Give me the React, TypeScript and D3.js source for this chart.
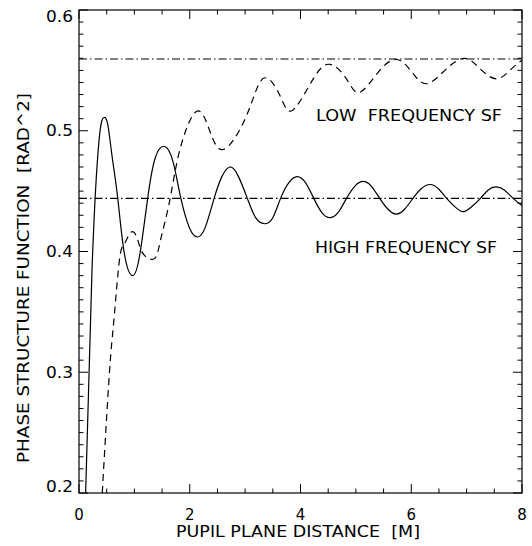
import React, { useEffect, useRef } from 'react';
import * as d3 from 'd3';

// high frequency structure function (solid)
const highDist = [0.12, 0.235, 0.36, 0.45, 0.52, 0.6, 0.7, 0.82, 0.97, 1.1, 1.24, 1.38, 1.55, 1.7, 1.84, 2.0, 2.14, 2.28, 2.44, 2.58, 2.73, 2.88, 3.04, 3.19, 3.35, 3.5, 3.64, 3.79, 3.94, 4.09, 4.24, 4.39, 4.54, 4.69, 4.83, 4.98, 5.13, 5.28, 5.43, 5.58, 5.73, 5.88, 6.03, 6.18, 6.34, 6.49, 6.64, 6.79, 6.94, 7.09, 7.25, 7.39, 7.53, 7.68, 7.84, 8.0];
const highSF = [0.2, 0.385, 0.491, 0.511, 0.505, 0.478, 0.444, 0.398, 0.38, 0.398, 0.444, 0.478, 0.487, 0.474, 0.444, 0.419, 0.412, 0.42, 0.444, 0.462, 0.47, 0.462, 0.444, 0.428, 0.423, 0.428, 0.444, 0.457, 0.462, 0.457, 0.444, 0.432, 0.428, 0.433, 0.444, 0.454, 0.458, 0.454, 0.444, 0.435, 0.431, 0.435, 0.444, 0.452, 0.4555, 0.452, 0.444, 0.437, 0.433, 0.437, 0.444, 0.451, 0.4535, 0.451, 0.444, 0.438];

// low frequency structure function (dashed)
const lowDist = [0.42, 0.55, 0.63, 0.73, 0.82, 0.94, 1.05, 1.16, 1.36, 1.47, 1.64, 1.82, 2.12, 2.36, 2.62, 3.03, 3.33, 3.63, 3.86, 4.23, 4.53, 4.83, 5.07, 5.43, 5.76, 6.03, 6.29, 6.63, 6.97, 7.25, 7.54, 7.78, 8.0];
const lowSF = [0.2, 0.3, 0.343, 0.393, 0.4065, 0.416, 0.411, 0.398, 0.394, 0.409, 0.4425, 0.484, 0.516, 0.5, 0.4847, 0.513, 0.5434, 0.529, 0.517, 0.543, 0.555, 0.543, 0.5318, 0.55, 0.5588, 0.5475, 0.539, 0.551, 0.56, 0.551, 0.543, 0.55, 0.5585];

// asymptotic levels (dash-dot)
const asymptotes = [0.5594, 0.444];

const xTickValues = [0, 2, 4, 6, 8];
const yTickValues = [0.2, 0.3, 0.4, 0.5, 0.6];

const App = () => {
  const svgRef = useRef(null);

  useEffect(() => {
    const width = 532;
    const height = 546;
    const left = 79;
    const right = 522;
    const top = 10;
    const bottom = 493;
    const font = '"DejaVu Sans", sans-serif';

    const svg = d3.select(svgRef.current);
    svg.selectAll('*').remove();
    svg.attr('width', width).attr('height', height);

    const x = d3.scaleLinear().domain([0, 8]).range([left, right]);
    const y = d3.scaleLinear().domain([0.2, 0.6]).range([bottom, top]);

    svg.append('clipPath').attr('id', 'plotclip')
      .append('rect')
      .attr('x', left).attr('y', top)
      .attr('width', right - left).attr('height', bottom - top);

    const plot = svg.append('g').attr('clip-path', 'url(#plotclip)');

    // dash-dot asymptotes
    plot.selectAll('.asym')
      .data(asymptotes)
      .enter()
      .append('line')
      .attr('x1', left).attr('x2', right)
      .attr('y1', (d) => y(d)).attr('y2', (d) => y(d))
      .attr('stroke', '#000')
      .attr('stroke-width', 1.1)
      .attr('stroke-dasharray', '8,3,1.5,3');

    const line = d3.line()
      .x((d) => x(d[0]))
      .y((d) => y(d[1]))
      .curve(d3.curveNatural);

    plot.append('path')
      .attr('d', line(highDist.map((d, i) => [d, highSF[i]])))
      .attr('fill', 'none')
      .attr('stroke', '#000')
      .attr('stroke-width', 1.2);

    plot.append('path')
      .attr('d', line(lowDist.map((d, i) => [d, lowSF[i]])))
      .attr('fill', 'none')
      .attr('stroke', '#000')
      .attr('stroke-width', 1.2)
      .attr('stroke-dasharray', '7,5');

    // frame
    svg.append('rect')
      .attr('x', left).attr('y', top)
      .attr('width', right - left).attr('height', bottom - top)
      .attr('fill', 'none')
      .attr('stroke', '#000')
      .attr('stroke-width', 1.2);

    // ticks (inward, all four sides)
    const ticks = svg.append('g').attr('stroke', '#000').attr('stroke-width', 1);
    d3.range(0, 8.001, 0.5).forEach((v) => {
      const major = Math.abs(v / 2 - Math.round(v / 2)) < 1e-6;
      const len = major ? 9 : 4.5;
      ticks.append('line').attr('x1', x(v)).attr('x2', x(v)).attr('y1', bottom).attr('y2', bottom - len);
      ticks.append('line').attr('x1', x(v)).attr('x2', x(v)).attr('y1', top).attr('y2', top + len);
    });
    d3.range(0.2, 0.6001, 0.01).forEach((v) => {
      const major = Math.abs(v * 10 - Math.round(v * 10)) < 1e-6;
      const len = major ? 9 : 4.5;
      ticks.append('line').attr('x1', left).attr('x2', left + len).attr('y1', y(v)).attr('y2', y(v));
      ticks.append('line').attr('x1', right).attr('x2', right - len).attr('y1', y(v)).attr('y2', y(v));
    });

    // tick labels
    svg.selectAll('.ylab')
      .data(yTickValues)
      .enter()
      .append('text')
      .attr('x', 46)
      .attr('y', (d) => Math.min(bottom - 6, Math.max(top + 6.5, y(d))))
      .attr('dy', '0.36em')
      .attr('textLength', 27)
      .attr('lengthAdjust', 'spacingAndGlyphs')
      .style('font-family', font)
      .style('font-size', '15px')
      .text((d) => d.toFixed(1));

    svg.selectAll('.xlab')
      .data(xTickValues)
      .enter()
      .append('text')
      .attr('x', (d) => x(d))
      .attr('y', 520)
      .attr('text-anchor', 'middle')
      .style('font-family', font)
      .style('font-size', '15px')
      .text((d) => d);

    // axis titles
    svg.append('text')
      .attr('x', 176)
      .attr('y', 537)
      .attr('textLength', 244)
      .attr('lengthAdjust', 'spacingAndGlyphs')
      .style('font-family', font)
      .style('font-size', '15px')
      .style('white-space', 'pre')
      .text('PUPIL PLANE DISTANCE  [M]');

    svg.append('text')
      .attr('transform', 'translate(29,463) rotate(-90)')
      .attr('textLength', 370)
      .attr('lengthAdjust', 'spacingAndGlyphs')
      .style('font-family', font)
      .style('font-size', '15px')
      .style('white-space', 'pre')
      .text('PHASE STRUCTURE FUNCTION  [RAD^2]');

    // curve annotations
    svg.append('text')
      .attr('x', 316)
      .attr('y', 120.5)
      .attr('textLength', 186)
      .attr('lengthAdjust', 'spacingAndGlyphs')
      .style('font-family', font)
      .style('font-size', '15px')
      .style('white-space', 'pre')
      .text('LOW  FREQUENCY SF');

    svg.append('text')
      .attr('x', 315)
      .attr('y', 253)
      .attr('textLength', 182)
      .attr('lengthAdjust', 'spacingAndGlyphs')
      .style('font-family', font)
      .style('font-size', '15px')
      .style('white-space', 'pre')
      .text('HIGH FREQUENCY SF');
  }, []);

  return (
    <div style={{ position: 'absolute', left: 0, top: 0 }}>
      <svg ref={svgRef} style={{ display: 'block', background: '#fff' }}></svg>
    </div>
  );
};

export default App;
